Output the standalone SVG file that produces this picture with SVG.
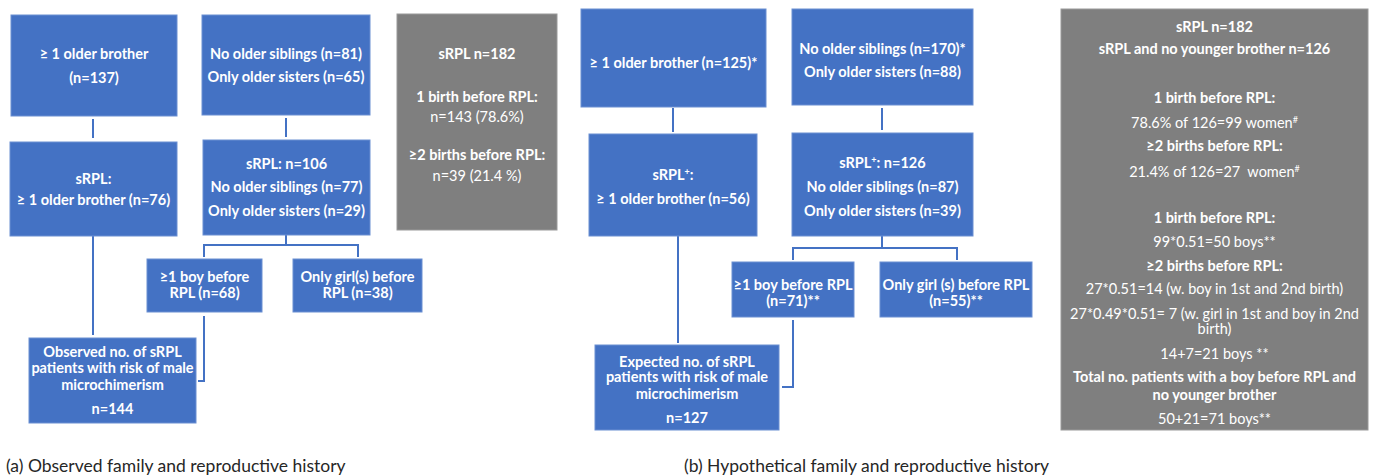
<svg xmlns="http://www.w3.org/2000/svg" width="1373" height="476" viewBox="0 0 1373 476">
<style>
.box{fill:#4472C4;stroke:#6a8fd2;stroke-width:1}
.gbox{fill:#7F7F7F;stroke:#9a9a9a;stroke-width:1}
.t{font-family:Lato,"Liberation Sans",sans-serif;font-size:14.5px;fill:#ffffff;text-anchor:middle}
.b{font-weight:bold}
.con{fill:none;stroke:#4472C4;stroke-width:2}
.cap{font-family:Lato,"Liberation Sans",sans-serif;font-size:17.5px;fill:#262626}
.sup{font-size:9px}
</style>
<rect width="1373" height="476" fill="#ffffff"/>
<g id="connectors">
<path class="con" d="M93,119 V138"/>
<path class="con" d="M93,236 V335"/>
<path class="con" d="M286,118 V137"/>
<path class="con" d="M286,235 V245 M204,257 V245 H358 V257"/>
<path class="con" d="M204,316 V381 H198"/>
<path class="con" d="M673,108 V132"/>
<path class="con" d="M678,236 V343"/>
<path class="con" d="M882,108 V130"/>
<path class="con" d="M882,236 V248 M793,260 V248 H957 V260"/>
<path class="con" d="M793,320 V387 H782"/>
</g>
<g id="a1"><rect class="box" x="11" y="15" width="166" height="101"/>
<text class="t b" x="94" y="59">≥ 1 older brother</text><text class="t b" x="94" y="83">(n=137)</text></g>
<g id="a2"><rect class="box" x="10" y="142" width="167" height="94"/>
<text class="t b" x="93.5" y="184">sRPL:</text><text class="t b" x="93.5" y="205">≥ 1 older brother (n=76)</text></g>
<g id="a3"><rect class="box" x="29" y="338" width="167" height="85"/>
<text class="t b" x="112.5" y="357">Observed no. of sRPL</text><text class="t b" x="112.5" y="373">patients with risk of male</text><text class="t b" x="112.5" y="390">microchimerism</text><text class="t b" x="112.5" y="414">n=144</text></g>
<g id="a4"><rect class="box" x="202" y="15" width="168" height="100"/>
<text class="t b" x="286" y="59">No older siblings (n=81)</text><text class="t b" x="286" y="82">Only older sisters (n=65)</text></g>
<g id="a5"><rect class="box" x="203" y="140" width="167" height="95"/>
<text class="t b" x="286.5" y="169">sRPL: n=106</text><text class="t b" x="286.5" y="192">No older siblings (n=77)</text><text class="t b" x="286.5" y="216">Only older sisters (n=29)</text></g>
<g id="a6"><rect class="box" x="147" y="259" width="115" height="53"/>
<text class="t b" x="204.5" y="282">≥1 boy before</text><text class="t b" x="204.5" y="298">RPL (n=68)</text></g>
<g id="a7"><rect class="box" x="293" y="259" width="129" height="53"/>
<text class="t b" x="357.5" y="282">Only girl(s) before</text><text class="t b" x="357.5" y="298">RPL (n=38)</text></g>
<g id="g1"><rect class="gbox" x="397" y="14" width="160" height="216"/>
<text class="t b" x="477" y="59">sRPL n=182</text>
<text class="t b" x="477" y="102">1 birth before RPL:</text>
<text class="t" x="477" y="122">n=143 (78.6%)</text>
<text class="t b" x="477" y="160">≥2 births before RPL:</text>
<text class="t" x="477" y="181">n=39 (21.4 %)</text></g>
<g id="b1"><rect class="box" x="581" y="9" width="185" height="98"/>
<text class="t b" x="673.5" y="68">≥ 1 older brother (n=125)*</text></g>
<g id="b2"><rect class="box" x="589" y="134" width="168" height="102"/>
<text class="t b" x="673" y="180">sRPL<tspan class="sup" dy="-5">+</tspan><tspan dy="5">:</tspan></text><text class="t b" x="673" y="204">≥ 1 older brother (n=56)</text></g>
<g id="b3"><rect class="box" x="595" y="345" width="184" height="85"/>
<text class="t b" x="687" y="367">Expected no. of sRPL</text><text class="t b" x="687" y="382">patients with risk of male</text><text class="t b" x="687" y="399">microchimerism</text><text class="t b" x="687" y="423">n=127</text></g>
<g id="b4"><rect class="box" x="792" y="9" width="181" height="96"/>
<text class="t b" x="882.5" y="54">No older siblings (n=170)*</text><text class="t b" x="882.5" y="77">Only older sisters (n=88)</text></g>
<g id="b5"><rect class="box" x="792" y="133" width="181" height="103"/>
<text class="t b" x="882.5" y="168">sRPL<tspan class="sup" dy="-5">+</tspan><tspan dy="5">: n=126</tspan></text><text class="t b" x="882.5" y="192">No older siblings (n=87)</text><text class="t b" x="882.5" y="216">Only older sisters (n=39)</text></g>
<g id="b6"><rect class="box" x="732" y="262" width="122" height="55"/>
<text class="t b" x="793" y="290">≥1 boy before RPL</text><text class="t b" x="793" y="305.5">(n=71)**</text></g>
<g id="b7"><rect class="box" x="880" y="262" width="152" height="55"/>
<text class="t b" x="956" y="290">Only girl (s) before RPL</text><text class="t b" x="956" y="305.5">(n=55)**</text></g>
<g id="g2"><rect class="gbox" x="1061" y="9" width="307" height="421"/>
<text class="t b" x="1214.5" y="32">sRPL n=182</text>
<text class="t b" x="1214.5" y="54">sRPL and no younger brother n=126</text>
<text class="t b" x="1214.5" y="103">1 birth before RPL:</text>
<text class="t" x="1214.5" y="128">78.6% of 126=99 women<tspan class="sup" dy="-5">#</tspan></text>
<text class="t b" x="1214.5" y="151">≥2 births before RPL:</text>
<text class="t" x="1214.5" y="177">21.4% of 126=27&#160; women<tspan class="sup" dy="-5">#</tspan></text>
<text class="t b" x="1214.5" y="223">1 birth before RPL:</text>
<text class="t" x="1214.5" y="247">99*0.51=50 boys**</text>
<text class="t b" x="1214.5" y="271">≥2 births before RPL:</text>
<text class="t" x="1214.5" y="294">27*0.51=14 (w. boy in 1st and 2nd birth)</text>
<text class="t" x="1214.5" y="319">27*0.49*0.51= 7 (w. girl in 1st and boy in 2nd</text>
<text class="t" x="1214.5" y="334">birth)</text>
<text class="t" x="1214.5" y="359">14+7=21 boys **</text>
<text class="t b" x="1214.5" y="382">Total no. patients with a boy before RPL and</text>
<text class="t b" x="1214.5" y="400">no younger brother</text>
<text class="t" x="1214.5" y="424">50+21=71 boys**</text></g>
<text class="cap" x="6" y="472">(a) Observed family and reproductive history</text>
<text class="cap" x="684" y="472">(b) Hypothetical family and reproductive history</text>
</svg>
